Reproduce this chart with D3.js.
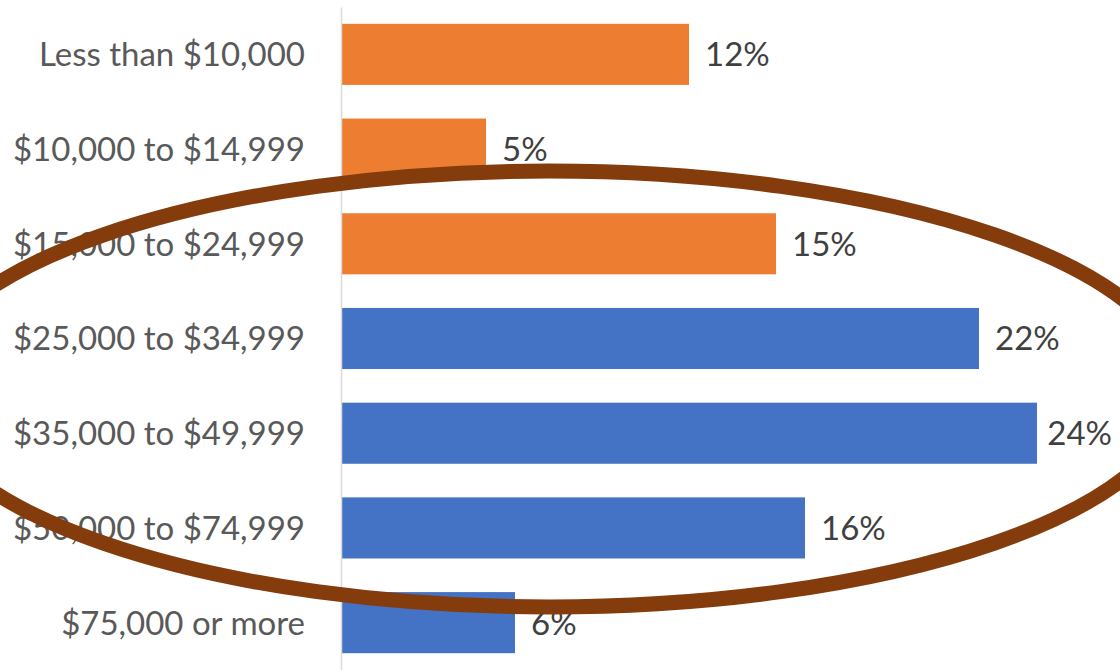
<!DOCTYPE html>
<html>
<head>
<meta charset="utf-8">
<script src="https://cdn.jsdelivr.net/npm/d3@7"></script>
<style>
  html, body { margin: 0; padding: 0; background: #fff; }
  svg { display: block; }
  text { font-family: Lato, "Open Sans", sans-serif; }
</style>
</head>
<body>
<svg id="chart" width="1120" height="670"></svg>
<script>
// Household income brackets and share of households in each
const categories = [
  "Less than $10,000",
  "$10,000 to $14,999",
  "$15,000 to $24,999",
  "$25,000 to $34,999",
  "$35,000 to $49,999",
  "$50,000 to $74,999",
  "$75,000 or more"
];
const shares = [12, 5, 15, 22, 24, 16, 6];
// Lower three brackets are highlighted in orange
const groups = ["low", "low", "low", "mid", "mid", "mid", "mid"];

const W = 1120, H = 670;
const svg = d3.select("#chart");

const x = d3.scaleLinear().domain([0, 24]).range([341, 1037]);
const y = d3.scaleBand().domain(categories).range([7, 670])
  .paddingInner(0.355).paddingOuter(0.1775);
const color = d3.scaleOrdinal().domain(["low", "mid"]).range(["#ED7D31", "#4472C4"]);

const rows = categories.map((c, i) => ({ cat: c, v: shares[i], g: groups[i] }));

// Bars
svg.append("g").selectAll("rect").data(rows).join("rect")
  .attr("x", x(0))
  .attr("y", d => y(d.cat))
  .attr("width", d => x(d.v) - x(0))
  .attr("height", y.bandwidth())
  .attr("fill", d => color(d.g));

// Category axis
const axis = svg.append("g")
  .attr("transform", `translate(${x(0)},0)`)
  .call(d3.axisLeft(y).tickSize(0).tickSizeOuter(0).tickPadding(36));
axis.select(".domain").attr("stroke", "#D9D9D9").attr("stroke-width", 1.5);
axis.selectAll(".tick text")
  .attr("fill", "#595959")
  .style("font-size", "33px")
  .attr("dy", "0.36em");

// Value labels
const labels = svg.append("g").selectAll("text").data(rows).join("text")
  .attr("y", d => y(d.cat) + y.bandwidth() / 2)
  .attr("dy", "0.36em")
  .attr("fill", "#404040")
  .style("font-size", "33px")
  .text(d => d.v + "%");
labels.each(function (d) {
  const w = this.getComputedTextLength();
  const px = Math.min(x(d.v) + 16, W - 8 - w);
  d3.select(this).attr("x", px);
});

// Highlight ring around the middle brackets
svg.append("ellipse")
  .attr("cx", 549)
  .attr("cy", 389)
  .attr("rx", 630)
  .attr("ry", 218)
  .attr("fill", "none")
  .attr("stroke", "#843C0C")
  .attr("stroke-width", 15);
</script>
</body>
</html>
